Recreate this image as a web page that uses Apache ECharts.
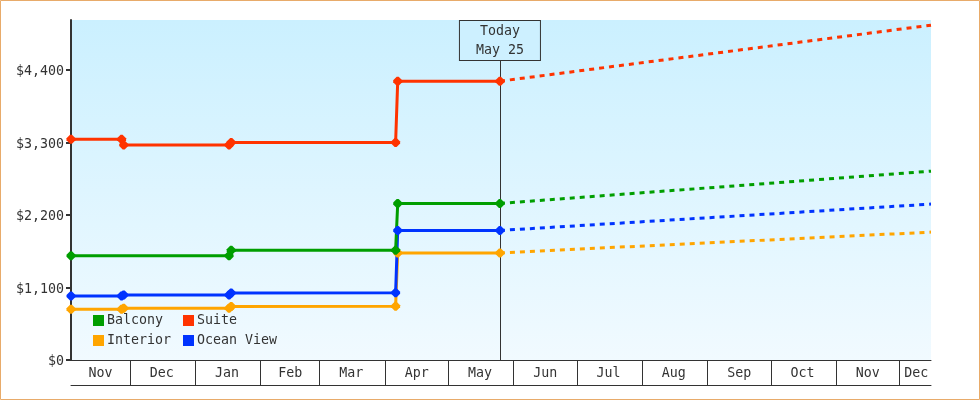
<!DOCTYPE html>
<html>
<head>
<meta charset="utf-8">
<style>
  html, body { margin: 0; padding: 0; background: #fff; }
  #chart { width: 980px; height: 400px; }
</style>
<script src="https://cdn.jsdelivr.net/npm/echarts@6/dist/echarts.min.js"></script>
</head>
<body>
<div id="chart"></div>
<script>
// month ticks and the labels centred in each (possibly clipped) month
const monthStarts = ['2012-12-01', '2013-01-01', '2013-02-01', '2013-03-01', '2013-04-01', '2013-05-01', '2013-06-01', '2013-07-01', '2013-08-01', '2013-09-01', '2013-10-01', '2013-11-01', '2013-12-01'];
const monthMids = ['2012-11-17', '2012-12-16', '2013-01-16', '2013-02-15', '2013-03-16', '2013-04-16', '2013-05-16', '2013-06-16', '2013-07-16', '2013-08-16', '2013-09-16', '2013-10-16', '2013-11-16', '2013-12-09'];
const monthLabels = ['Nov', 'Dec', 'Jan', 'Feb', 'Mar', 'Apr', 'May', 'Jun', 'Jul', 'Aug', 'Sep', 'Oct', 'Nov', 'Dec'];
const yTicks = [0, 1100, 2200, 3300, 4400];

const axisStart = '2012-11-03';
const axisEnd = '2013-12-16';
const yMax = 5158;
const today = '2013-05-25 12:00';
const calloutBase = 4551;

const suiteDates = ['2012-11-03', '2012-11-27', '2012-11-28', '2013-01-17', '2013-01-18', '2013-04-06', '2013-04-07', today];
const suiteValues = [3350, 3350, 3260, 3260, 3300, 3300, 4230, 4230];
const balconyDates = ['2012-11-03', '2013-01-17', '2013-01-18', '2013-04-06', '2013-04-07', today];
const balconyValues = [1580, 1580, 1665, 1665, 2375, 2375];
const oceanDates = ['2012-11-03', '2012-11-27', '2012-11-28', '2013-01-17', '2013-01-18', '2013-04-06', '2013-04-07', today];
const oceanValues = [970, 970, 985, 985, 1015, 1020, 1965, 1965];
const interiorDates = ['2012-11-03', '2012-11-27', '2012-11-28', '2013-01-17', '2013-01-18', '2013-04-06', '2013-04-07', today];
const interiorValues = [770, 770, 785, 785, 810, 815, 1625, 1625];

const forecastDates = [today, axisEnd];
const suiteForecast = [4230, 5080];
const balconyForecast = [2375, 2865];
const oceanForecast = [1965, 2365];
const interiorForecast = [1625, 1940];

const INK = '#333333';
const FONT = '"DejaVu Sans Mono", monospace';
const FONT_SIZE = 13.3;
const MARKER = 'path://M3.5,0 L5.5,0 L9,3.5 L9,5.5 L5.5,9 L3.5,9 L0,5.5 L0,3.5 Z';
const colors = { Balcony: '#009e00', Suite: '#ff3300', Interior: '#ffa500', 'Ocean View': '#0033ff' };

const toTime = (d) => +echarts.time.parse(d);
const zip = (dates, values) => dates.map((d, i) => [toTime(d), values[i]]);

function solidSeries(name, dates, values, extra) {
    return Object.assign({
        name: name,
        type: 'line',
        data: zip(dates, values),
        clip: false,
        symbol: MARKER,
        symbolSize: 9,
        showAllSymbol: true,
        itemStyle: { color: colors[name] },
        lineStyle: { color: colors[name], width: 3 }
    }, extra);
}

function forecastSeries(name, values) {
    return {
        name: name + ' forecast',
        type: 'line',
        data: zip(forecastDates, values),
        symbol: 'none',
        itemStyle: { color: colors[name] },
        lineStyle: { color: colors[name], width: 3, type: [5, 5] }
    };
}

function legendColumn(left, names) {
    return {
        orient: 'vertical',
        left: left,
        top: 314,
        padding: 0,
        itemWidth: 11,
        itemHeight: 11,
        itemGap: 7,
        icon: 'rect',
        selectedMode: false,
        data: names,
        textStyle: { fontFamily: FONT, fontSize: FONT_SIZE, color: INK, padding: [0, 0, 0, -2] }
    };
}

const todayLine = {
    silent: true,
    symbol: 'none',
    z: 1,
    lineStyle: { color: INK, width: 1, type: 'solid' },
    label: {
        show: true,
        position: 'end',
        distance: 0,
        formatter: 'Today\nMay 25',
        fontFamily: FONT,
        fontSize: FONT_SIZE,
        lineHeight: 19,
        color: INK,
        width: 80,
        height: 39,
        align: 'center',
        verticalAlign: 'bottom',
        backgroundColor: '#cdf0ff',
        borderColor: INK,
        borderWidth: 1
    },
    emphasis: { disabled: true },
    data: [[{ coord: [toTime(today), 0] }, { coord: [toTime(today), calloutBase] }]]
};

// value axis holding timestamps, so that custom month ticks can be placed
const timeRange = { type: 'value', min: toTime(axisStart), max: toTime(axisEnd) };

const chart = echarts.init(document.getElementById('chart'));
chart.setOption({
    animation: false,
    backgroundColor: '#fff',
    tooltip: { show: false },
    graphic: [{
        type: 'rect',
        silent: true,
        z: -10,
        shape: { x: 0.5, y: 0.5, width: 979, height: 399 },
        style: { fill: 'none', stroke: '#e8ab6a', lineWidth: 1 }
    }],
    grid: {
        left: 71, right: 49, top: 20, bottom: 40,
        show: true,
        borderWidth: 0,
        backgroundColor: new echarts.graphic.LinearGradient(0, 0, 0, 1, [
            { offset: 0, color: '#cbf0ff' },
            { offset: 1, color: '#f1faff' }
        ])
    },
    legend: [legendColumn(93, ['Balcony', 'Interior']), legendColumn(183, ['Suite', 'Ocean View'])],
    xAxis: [
        Object.assign({}, timeRange, {
            position: 'bottom',
            axisLine: { show: true, onZero: false, lineStyle: { color: INK, width: 1 } },
            axisTick: { show: true, length: 25, customValues: monthStarts.map(toTime), lineStyle: { color: INK, width: 1 } },
            axisLabel: {
                show: true,
                customValues: monthMids.map(toTime),
                formatter: (v) => monthLabels[monthMids.map(toTime).indexOf(v)],
                hideOverlap: false,
                margin: 7,
                fontFamily: FONT,
                fontSize: FONT_SIZE,
                color: INK
            },
            splitLine: { show: false }
        }),
        Object.assign({}, timeRange, {
            position: 'bottom',
            offset: 25,
            axisLine: { show: true, onZero: false, lineStyle: { color: INK, width: 1 } },
            axisTick: { show: false },
            axisLabel: { show: false },
            splitLine: { show: false }
        })
    ],
    yAxis: {
        type: 'value',
        min: 0,
        max: yMax,
        axisLine: { show: true, lineStyle: { color: INK, width: 2 } },
        axisTick: { show: true, length: 5, customValues: yTicks, lineStyle: { color: INK, width: 2 } },
        axisLabel: {
            customValues: yTicks,
            formatter: (v) => '$' + v.toLocaleString('en-US'),
            margin: 7,
            verticalAlign: 'top',
            lineHeight: 4,
            fontFamily: FONT,
            fontSize: FONT_SIZE,
            color: INK
        },
        splitLine: { show: false }
    },
    series: [
        solidSeries('Interior', interiorDates, interiorValues, { markLine: todayLine }),
        solidSeries('Ocean View', oceanDates, oceanValues),
        solidSeries('Balcony', balconyDates, balconyValues),
        solidSeries('Suite', suiteDates, suiteValues),
        forecastSeries('Interior', interiorForecast),
        forecastSeries('Ocean View', oceanForecast),
        forecastSeries('Balcony', balconyForecast),
        forecastSeries('Suite', suiteForecast)
    ]
});
</script>
</body>
</html>
